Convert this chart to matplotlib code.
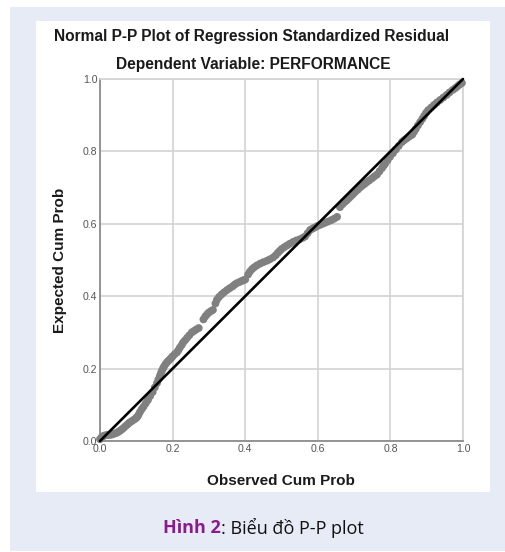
import matplotlib
matplotlib.use("Agg")
import matplotlib.pyplot as plt
from matplotlib.patches import Rectangle

# observed vs expected cumulative probabilities
obs_cum_prob = [
    0.000, 0.004, 0.008, 0.012, 0.017, 0.022, 0.028, 0.033, 0.039, 0.045,
    0.050, 0.055, 0.060, 0.065, 0.070, 0.075, 0.079, 0.083, 0.089, 0.095,
    0.099, 0.102, 0.106, 0.110, 0.115, 0.120, 0.126, 0.132, 0.138, 0.145,
    0.151, 0.157, 0.161, 0.165, 0.168, 0.171, 0.174, 0.177, 0.181, 0.185,
    0.189, 0.193, 0.197,
    0.200, 0.206, 0.212, 0.216, 0.220, 0.225, 0.229, 0.234, 0.240, 0.246,
    0.253, 0.259, 0.265, 0.272, 0.285, 0.290, 0.295, 0.300, 0.306, 0.311,
    0.318, 0.322, 0.328, 0.335, 0.342, 0.350, 0.357, 0.365, 0.371, 0.377,
    0.384, 0.390, 0.395, 0.400,
    0.408, 0.413, 0.419, 0.425, 0.432, 0.441, 0.450, 0.460, 0.468, 0.477,
    0.484, 0.490, 0.495, 0.500, 0.507, 0.515, 0.523, 0.532, 0.541, 0.550,
    0.558, 0.565, 0.572, 0.579, 0.586, 0.592, 0.599, 0.606, 0.613, 0.620,
    0.628, 0.637, 0.645, 0.653,
    0.661, 0.668, 0.674, 0.680, 0.686, 0.692, 0.697, 0.703, 0.710, 0.716,
    0.722, 0.729, 0.735, 0.742, 0.750, 0.756, 0.763, 0.770, 0.777, 0.781,
    0.785, 0.792, 0.799, 0.807, 0.815, 0.823, 0.832, 0.838, 0.845, 0.852,
    0.860, 0.865, 0.870, 0.876, 0.882, 0.888, 0.893, 0.898, 0.904, 0.912,
    0.920, 0.928, 0.937, 0.946, 0.955, 0.963, 0.972, 0.979, 0.985, 0.991,
    0.997,
]
exp_cum_prob = [
    0.005, 0.010, 0.013, 0.015, 0.016, 0.017, 0.017, 0.018, 0.020, 0.022,
    0.025, 0.028, 0.032, 0.036, 0.041, 0.045, 0.049, 0.052, 0.056, 0.060,
    0.063, 0.066, 0.072, 0.080, 0.088, 0.095, 0.104, 0.113, 0.124, 0.135,
    0.148, 0.160, 0.170, 0.180, 0.188, 0.195, 0.201, 0.207, 0.213, 0.218,
    0.222, 0.226, 0.230,
    0.234, 0.240, 0.245, 0.251, 0.258, 0.265, 0.272, 0.278, 0.285, 0.292,
    0.300, 0.304, 0.308, 0.312, 0.336, 0.344, 0.350, 0.355, 0.359, 0.362,
    0.380, 0.390, 0.398, 0.405, 0.411, 0.417, 0.422, 0.427, 0.432, 0.436,
    0.439, 0.442, 0.444, 0.446,
    0.460, 0.468, 0.475, 0.480, 0.485, 0.490, 0.494, 0.498, 0.502, 0.507,
    0.513, 0.520, 0.525, 0.530, 0.535, 0.540, 0.545, 0.550, 0.554, 0.557,
    0.561, 0.565, 0.574, 0.583, 0.587, 0.590, 0.594, 0.597, 0.600, 0.603,
    0.606, 0.610, 0.614, 0.619,
    0.646, 0.654, 0.660, 0.665, 0.671, 0.677, 0.682, 0.688, 0.694, 0.700,
    0.705, 0.710, 0.715, 0.720, 0.726, 0.731, 0.736, 0.745, 0.754, 0.760,
    0.765, 0.775, 0.785, 0.795, 0.805, 0.815, 0.826, 0.831, 0.836, 0.841,
    0.846, 0.854, 0.862, 0.872, 0.881, 0.890, 0.898, 0.906, 0.914, 0.921,
    0.928, 0.935, 0.942, 0.949, 0.956, 0.963, 0.970, 0.975, 0.980, 0.985,
    0.989,
]
ref_line = [0.0, 1.0]
ticks = [0.0, 0.2, 0.4, 0.6, 0.8, 1.0]
tick_labels = ["0.0", "0.2", "0.4", "0.6", "0.8", "1.0"]

W, H = 505, 552
fig = plt.figure(figsize=(W / 100, H / 100), dpi=100)
fig.patch.set_facecolor("white")

# light blue frame and white chart panel
fig.patches.append(Rectangle((10 / W, 1 / H), 495 / W, 544 / H, transform=fig.transFigure,
                             facecolor="#e7ebf6", edgecolor="none", zorder=0))
fig.patches.append(Rectangle((36 / W, 60 / H), 454 / W, 471 / H, transform=fig.transFigure,
                             facecolor="white", edgecolor="none", zorder=1))

ax = fig.add_axes([100 / W, 111 / H, 363 / W, 362 / H])
ax.set_facecolor("white")
ax.set_zorder(2)

ax.scatter(obs_cum_prob, exp_cum_prob, s=32, color="#808080", edgecolors="none", zorder=3, clip_on=False)
ax.plot(ref_line, ref_line, color="black", lw=1.9, zorder=4, solid_capstyle="round", clip_on=False)

ax.set_xlim(0, 1)
ax.set_ylim(0, 1)
ax.set_xticks(ticks)
ax.set_yticks(ticks)
ax.set_xticklabels(tick_labels)
ax.set_yticklabels(tick_labels)
ax.grid(True, color="#d3d3d3", lw=1.2)
ax.set_axisbelow(True)
ax.tick_params(length=0, labelsize=7.6, labelcolor="#555555", pad=2,
               labelfontfamily="Liberation Sans")
for side in ["top", "right"]:
    ax.spines[side].set_color("#d3d3d3")
    ax.spines[side].set_linewidth(1.2)
for side in ["left", "bottom"]:
    ax.spines[side].set_color("#8c8c8c")
    ax.spines[side].set_linewidth(1.3)

lab = dict(family="Liberation Sans", weight="bold", color="#1a1a1a")
fig.text(252 / W, 1 - 37 / H, "Normal P-P Plot of Regression Standardized Residual",
         ha="center", va="center", fontsize=11.2, **lab)
fig.text(253 / W, 1 - 64 / H, "Dependent Variable: PERFORMANCE",
         ha="center", va="center", fontsize=11.2, **lab)
fig.text(281 / W, 1 - 481 / H, "Observed Cum Prob", ha="center", va="center", fontsize=11, **lab)
fig.text(60 / W, 1 - 260 / H, "Expected Cum Prob", ha="center", va="center",
         rotation=90, fontsize=11, **lab)

# caption: bold purple part followed by regular text
fig.canvas.draw()
r = fig.canvas.get_renderer()
cap_y = 1 - 528 / H
t1 = fig.text(0, cap_y, "Hình 2", ha="left", va="center", fontsize=13,
              family="Open Sans", weight="bold", color="#8b1a8e")
t2 = fig.text(0, cap_y, ": Biểu đồ P-P plot", ha="left", va="center", fontsize=13,
              family="Open Sans", color="#111111")
w1 = t1.get_window_extent(r).width
w2 = t2.get_window_extent(r).width
x0 = 263 - (w1 + w2) / 2
t1.set_x(x0 / W)
t2.set_x((x0 + w1) / W)

fig.savefig("out.png", dpi=100)
